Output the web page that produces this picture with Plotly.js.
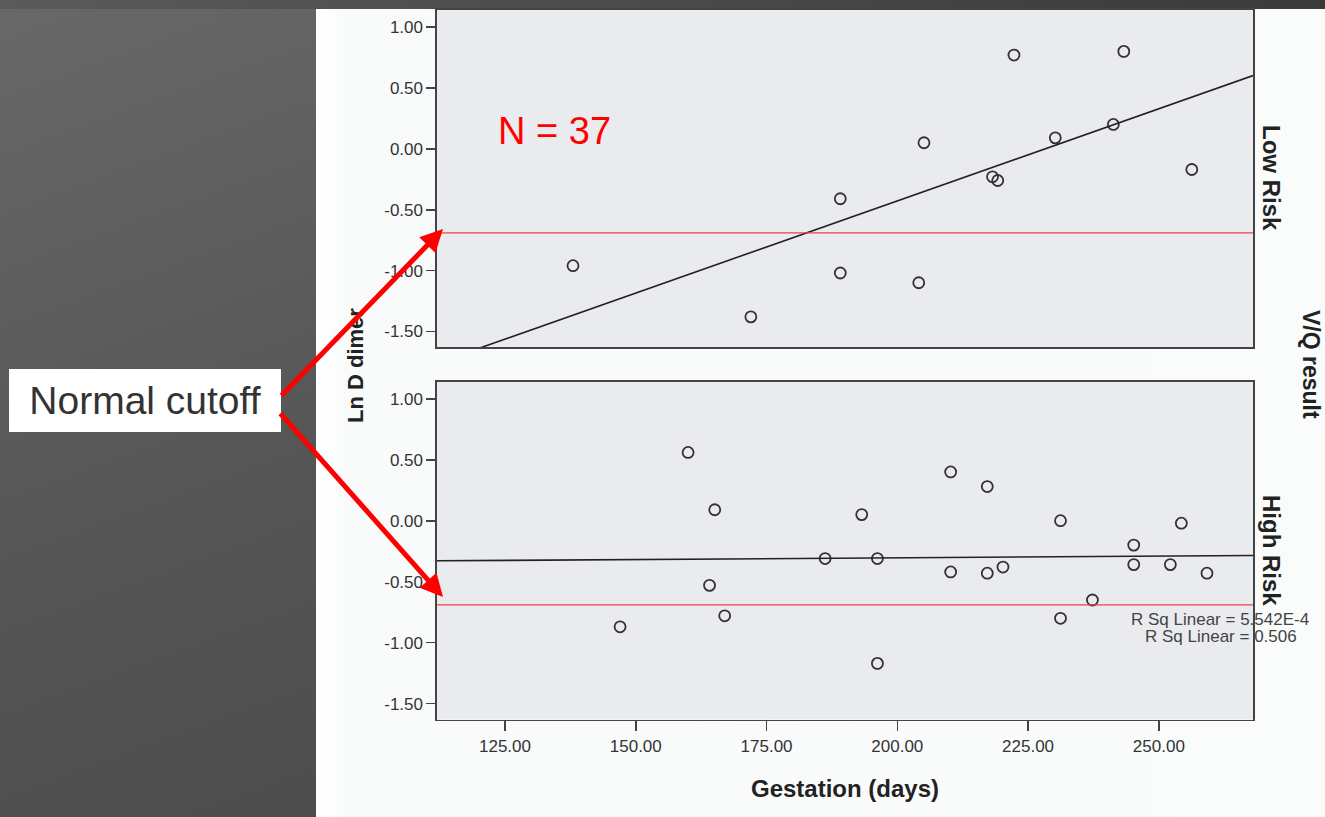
<!DOCTYPE html>
<html>
<head>
<meta charset="utf-8">
<script src="https://cdn.plot.ly/plotly-3.0.1.min.js"></script>
<style>
  html, body { margin: 0; padding: 0; width: 1325px; height: 817px; overflow: hidden; }
  body { background: linear-gradient(160deg, #686868 0%, #555555 45%, #454545 100%); position: relative; }
  #topstrip { position: absolute; left: 0; top: 0; width: 1325px; height: 9px; background: linear-gradient(90deg, #5a5a5a, #3a3a3a); }
  #sheet { position: absolute; left: 316px; top: 9px; width: 1009px; height: 808px;
           background: linear-gradient(90deg, #ffffff 0px, #f9fbfb 30px, #fafcfc 100%); }
  #chart { position: absolute; left: 0; top: 0; width: 1325px; height: 817px; }
</style>
</head>
<body>
<div id="topstrip"></div>
<div id="sheet"></div>
<div id="chart"></div>
<script>
// ---- Data ----
// Low Risk V/Q panel: gestation (days) and Ln D dimer
const lowRiskDays  = [138.0, 172.0, 189.1, 189.1, 204.1, 205.1, 218.2, 219.2, 222.3, 230.2, 241.3, 243.3, 256.3];
const lowRiskLnDD  = [-0.96, -1.38, -0.41, -1.02, -1.10, 0.05, -0.23, -0.26, 0.77, 0.09, 0.20, 0.80, -0.17];
// High Risk V/Q panel
const highRiskDays = [147.0, 160.0, 164.1, 165.1, 167.0, 186.2, 193.2, 196.2, 196.2, 210.2, 210.2, 217.2, 217.2, 220.2, 231.2, 231.2, 237.3, 245.2, 245.2, 252.2, 254.3, 259.2];
const highRiskLnDD = [-0.87, 0.56, -0.53, 0.09, -0.78, -0.31, 0.05, -0.31, -1.17, 0.40, -0.42, 0.28, -0.43, -0.38, 0.00, -0.80, -0.65, -0.20, -0.36, -0.36, -0.02, -0.43];
// Normal cutoff for Ln D dimer
const normalCutoff = -0.69;
// Axis ticks
const xTickVals = [125, 150, 175, 200, 225, 250];
const xTickText = ['125.00', '150.00', '175.00', '200.00', '225.00', '250.00'];
const yTickVals = [-1.5, -1.0, -0.5, 0.0, 0.5, 1.0];
const yTickText = ['-1.50', '-1.00', '-0.50', '0.00', '0.50', '1.00'];
const xRange = [112, 268];
const yRange = [-1.63, 1.14];
// Text
const rSqLabels = ['R Sq Linear = 5.542E-4', 'R Sq Linear = 0.506'];
const panelLabels = ['Low Risk', 'High Risk'];
const nLabel = 'N = 37';

// ---- Linear fit ----
function linFit(xs, ys) {
  const n = xs.length;
  const mx = xs.reduce((a, b) => a + b, 0) / n;
  const my = ys.reduce((a, b) => a + b, 0) / n;
  let sxy = 0, sxx = 0;
  for (let i = 0; i < n; i++) { sxy += (xs[i] - mx) * (ys[i] - my); sxx += (xs[i] - mx) ** 2; }
  const b = sxy / sxx;
  return { a: my - b * mx, b: b };
}
const lowFit = linFit(lowRiskDays, lowRiskLnDD);
const highFit = linFit(highRiskDays, highRiskLnDD);

const W = 1325, H = 817;
const px = v => v / W, py = v => 1 - v / H;

const markerStyle = { symbol: 'circle-open', size: 11, color: '#333333', line: { width: 1.8, color: '#333333' } };

const traces = [
  { type: 'scatter', mode: 'markers', x: lowRiskDays, y: lowRiskLnDD, xaxis: 'x2', yaxis: 'y2', marker: markerStyle, hoverinfo: 'x+y' },
  { type: 'scatter', mode: 'lines', x: xRange, y: xRange.map(d => lowFit.a + lowFit.b * d), xaxis: 'x2', yaxis: 'y2',
    line: { color: '#222222', width: 1.6 }, hoverinfo: 'skip' },
  { type: 'scatter', mode: 'markers', x: highRiskDays, y: highRiskLnDD, xaxis: 'x', yaxis: 'y', marker: markerStyle, hoverinfo: 'x+y' },
  { type: 'scatter', mode: 'lines', x: xRange, y: xRange.map(d => highFit.a + highFit.b * d), xaxis: 'x', yaxis: 'y',
    line: { color: '#222222', width: 1.6 }, hoverinfo: 'skip' }
];

const font = '"Liberation Sans", Arial, Helvetica, sans-serif';
const axisCommon = {
  range: xRange, showgrid: false, zeroline: false, showline: true, linecolor: '#444444', linewidth: 1.6, mirror: true,
  fixedrange: true
};
const xDomain = [px(437), px(1253)];
const yTopDomain = [py(347.3), py(10)];
const yBotDomain = [py(719.5), py(381.7)];

const yAxisCommon = {
  range: yRange, tickmode: 'array', tickvals: yTickVals, ticktext: yTickText,
  ticks: 'outside', ticklen: 9, tickwidth: 1.6, tickcolor: '#444444',
  tickfont: { family: font, size: 17, color: '#333333' },
  showgrid: false, zeroline: false, showline: true, linecolor: '#444444', linewidth: 1.6, mirror: true, fixedrange: true
};

function label(text, x, y, size, color, extra) {
  return Object.assign({ text: text, xref: 'paper', yref: 'paper', x: px(x), y: py(y), xanchor: 'center', yanchor: 'middle',
    showarrow: false, font: { family: font, size: size, color: color } }, extra || {});
}

const layout = {
  width: W, height: H,
  margin: { l: 0, r: 0, t: 0, b: 0 },
  paper_bgcolor: 'rgba(0,0,0,0)',
  plot_bgcolor: '#e9ebee',
  showlegend: false,
  font: { family: font, color: '#333333' },
  xaxis: Object.assign({}, axisCommon, {
    domain: xDomain, anchor: 'y', tickmode: 'array', tickvals: xTickVals, ticktext: xTickText,
    ticks: 'outside', ticklen: 10, tickwidth: 1.6, tickcolor: '#444444',
    tickfont: { family: font, size: 17, color: '#333333' }
  }),
  xaxis2: Object.assign({}, axisCommon, { domain: xDomain, anchor: 'y2', showticklabels: false, ticks: '' }),
  yaxis: Object.assign({}, yAxisCommon, { domain: yBotDomain, anchor: 'x' }),
  yaxis2: Object.assign({}, yAxisCommon, { domain: yTopDomain, anchor: 'x2' }),
  shapes: [
    { type: 'line', xref: 'x2 domain', yref: 'y2', x0: 0, x1: 1, y0: normalCutoff, y1: normalCutoff,
      line: { color: '#f04040', width: 1.4 }, layer: 'above' },
    { type: 'line', xref: 'x domain', yref: 'y', x0: 0, x1: 1, y0: normalCutoff, y1: normalCutoff,
      line: { color: '#f04040', width: 1.4 }, layer: 'above' }
  ],
  annotations: [
    label(nLabel, 554, 131, 38, '#ff0000'),
    label('<b>' + panelLabels[0] + '</b>', 1272, 178, 24, '#222222', { textangle: 90 }),
    label('<b>' + panelLabels[1] + '</b>', 1272, 550, 24, '#222222', { textangle: 90 }),
    label('<b>V/Q result</b>', 1311, 364, 23, '#222222', { textangle: 90 }),
    label('<b>Ln D dimer</b>', 355, 366, 22, '#222222', { textangle: -90 }),
    label('<b>Gestation (days)</b>', 845, 788, 24, '#222222'),
    label(rSqLabels[0], 1220, 619, 17, '#444444'),
    label(rSqLabels[1], 1221, 636, 17, '#444444'),
    label('Normal cutoff', 145, 400, 39, '#333333',
      { width: 272, height: 63, bgcolor: '#ffffff', borderpad: 0, borderwidth: 0, align: 'center', valign: 'middle' }),
    { text: '', xref: 'paper', yref: 'paper', x: px(443), y: py(229), axref: 'pixel', ayref: 'pixel', ax: -163, ay: 168,
      showarrow: true, arrowhead: 2, arrowsize: 0.9, arrowwidth: 5, arrowcolor: '#ff0000', standoff: 0, startstandoff: 0 },
    { text: '', xref: 'paper', yref: 'paper', x: px(443), y: py(597), axref: 'pixel', ayref: 'pixel', ax: -164, ay: -185,
      showarrow: true, arrowhead: 2, arrowsize: 0.9, arrowwidth: 5, arrowcolor: '#ff0000', standoff: 0, startstandoff: 0 }
  ]
};

Plotly.newPlot('chart', traces, layout, { displayModeBar: false, staticPlot: true });
</script>
</body>
</html>
